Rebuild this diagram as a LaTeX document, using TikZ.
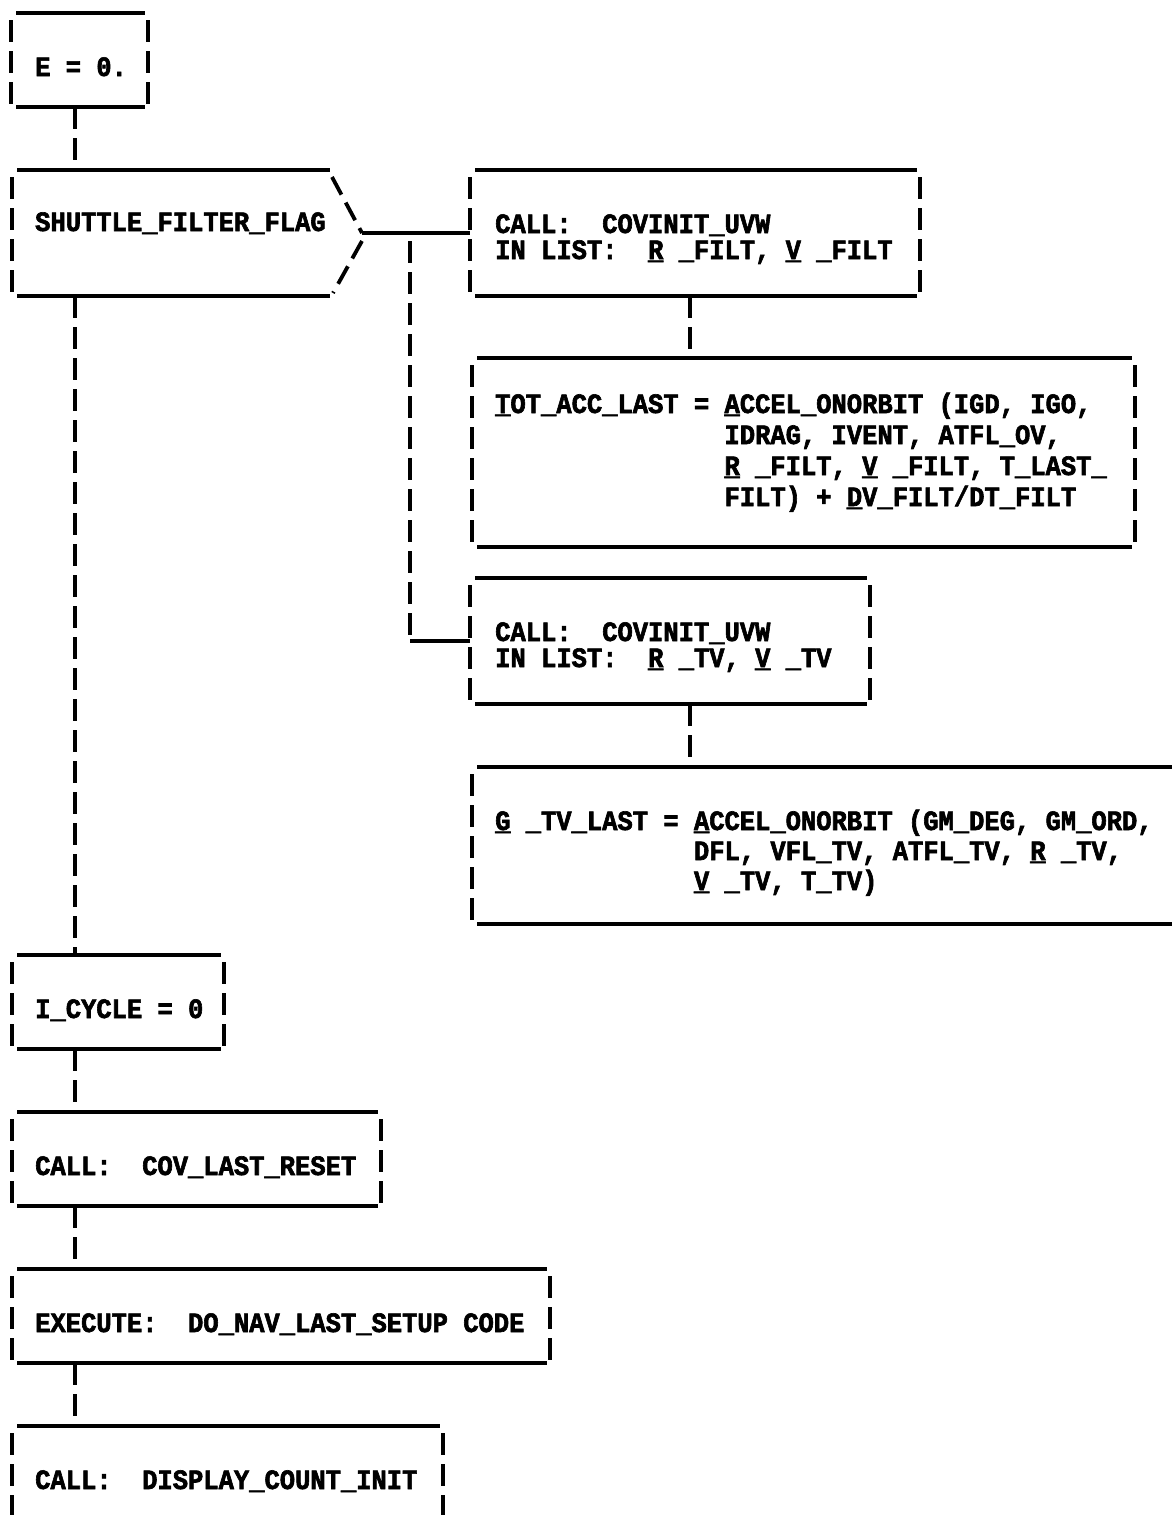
\documentclass[tikz,border=0pt]{standalone}
\usepackage{fontspec}
\newfontfamily\twfont{Liberation Mono}[FakeStretch=0.91, BoldFeatures={FakeBold=2.2}]
\newcommand\vecu[1]{\rlap{\_}#1}
\newcommand\tbox[5]{%
  \node[boxshape, minimum width={#4-#2}, minimum height={#5-#3}] (#1) at ({(#2+#4)/2},{(#3+#5)/2}) {};
  \draw[hline] ([xshift=5pt]#1.north west) -- ([xshift=-3pt]#1.north east);
  \draw[hline] ([xshift=5pt]#1.south west) -- ([xshift=-3pt]#1.south east);
  \draw[vdash] ([yshift=-7pt]#1.north west) -- (#1.south west);
  \draw[vdash] ([yshift=-7pt]#1.north east) -- (#1.south east);
}
\begin{document}
\begin{tikzpicture}[x=1pt,y=-1pt,
  hline/.style={line width=3.8pt},
  vdash/.style={line width=3.8pt, dash pattern=on 22pt off 9pt},
  diag/.style={line width=3.8pt, dash pattern=on 20pt off 9pt},
  boxshape/.style={rectangle, inner sep=0pt, outer sep=0pt, draw=none},
  uptext/.style={anchor=base west, inner sep=0pt, font=\twfont\bfseries\fontsize{28pt}{30pt}\selectfont}]
\useasboundingbox (0,0) rectangle (1172,1515);
\clip (0,0) rectangle (1172,1515);

% ---- boxes ----
\tbox{ebox}{11}{13}{148}{107}
\node[boxshape, minimum width=350, minimum height=126] (sh) at (187,233) {};
\draw[hline] ([xshift=5pt]sh.north west) -- ([xshift=-32pt]sh.north east);
\draw[hline] ([xshift=5pt]sh.south west) -- ([xshift=-32pt]sh.south east);
\draw[vdash] ([yshift=-7pt]sh.north west) -- (sh.south west);
\coordinate (tip) at (sh.east);
\draw[diag] ([xshift=-30pt,yshift=-7pt]sh.north east) -- (tip);
\draw[diag] ([yshift=-8pt]tip) -- ([xshift=-29pt,yshift=3pt]sh.south east);

\tbox{c1}{470}{170}{920}{296}
\tbox{tot}{472}{358}{1135}{547}
\tbox{c2}{470}{578}{870}{704}
\tbox{g}{472}{767}{1190}{924}
\tbox{icy}{12}{955}{224}{1049}
\tbox{cov}{12}{1112}{381}{1206}
\tbox{exe}{12}{1269}{550}{1363}
\tbox{dsp}{12}{1426}{443}{1560}

% ---- connectors ----
\coordinate (lx) at (75,0);
\coordinate (cx) at (690,0);
\coordinate (br) at (410,233);
\draw[vdash] (lx |- ebox.south) -- (lx |- sh.north);
\draw[hline] (tip) -- (c1.west);
\draw[vdash] ([yshift=-8pt]br) -- (br |- c2.west);
\draw[hline] (br |- c2.west) -- (c2.west);
\draw[vdash] (cx |- c1.south) -- (cx |- tot.north);
\draw[vdash] (cx |- c2.south) -- (cx |- g.north);
\draw[vdash] (lx |- sh.south) -- (lx |- icy.north);
\draw[vdash] (lx |- icy.south) -- (lx |- cov.north);
\draw[vdash] (lx |- cov.south) -- (lx |- exe.north);
\draw[vdash] (lx |- exe.south) -- (lx |- dsp.north);

% ---- texts ----
\node[uptext] (et) at (35,76) {E~=~0.};
\node[uptext] (sht) at (35,231) {SHUTTLE\_FILTER\_FLAG};
\node[uptext] (c1a) at (495,233) {CALL:~~COVINIT\_UVW};
\node[uptext] (c1b) at (495,259) {IN~LIST:~~\vecu{R}~\_FILT,~\vecu{V}~\_FILT};
\node[uptext] (tta) at (495,413) {\vecu{T}OT\_ACC\_LAST~=~\vecu{A}CCEL\_ONORBIT~(IGD,~IGO,};
\node[uptext] (ttb) at (495,444) {~~~~~~~~~~~~~~~IDRAG,~IVENT,~ATFL\_OV,};
\node[uptext] (ttc) at (495,475) {~~~~~~~~~~~~~~~\vecu{R}~\_FILT,~\vecu{V}~\_FILT,~T\_LAST\_};
\node[uptext] (ttd) at (495,506) {~~~~~~~~~~~~~~~FILT)~+~\vecu{D}V\_FILT/DT\_FILT};
\node[uptext] (c2a) at (495,641) {CALL:~~COVINIT\_UVW};
\node[uptext] (c2b) at (495,667) {IN~LIST:~~\vecu{R}~\_TV,~\vecu{V}~\_TV};
\node[uptext] (gta) at (495,830) {\vecu{G}~\_TV\_LAST~=~\vecu{A}CCEL\_ONORBIT~(GM\_DEG,~GM\_ORD,};
\node[uptext] (gtb) at (495,860) {~~~~~~~~~~~~~DFL,~VFL\_TV,~ATFL\_TV,~\vecu{R}~\_TV,};
\node[uptext] (gtc) at (495,890) {~~~~~~~~~~~~~\vecu{V}~\_TV,~T\_TV)};
\node[uptext] (icyt) at (35,1018) {I\_CYCLE~=~0};
\node[uptext] (covt) at (35,1175) {CALL:~~COV\_LAST\_RESET};
\node[uptext] (exet) at (35,1332) {EXECUTE:~~DO\_NAV\_LAST\_SETUP~CODE};
\node[uptext] (dspt) at (35,1489) {CALL:~~DISPLAY\_COUNT\_INIT};
\end{tikzpicture}
\end{document}
